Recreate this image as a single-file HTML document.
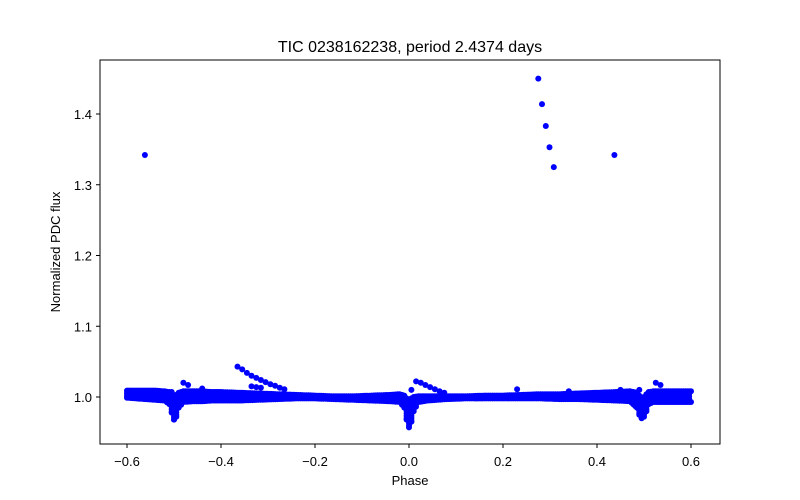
<!DOCTYPE html>
<html><head><meta charset="utf-8"><style>
body{margin:0;background:#fff;}
svg{display:block;font-family:"Liberation Sans","DejaVu Sans",sans-serif;}
</style></head><body>
<svg id="chart" width="800" height="500" viewBox="0 0 800 500">
<rect x="0" y="0" width="800" height="500" fill="#fff"/>
<text x="410" y="52" font-size="16" text-anchor="middle">TIC 0238162238, period 2.4374 days</text>
<g id="marks"></g>
<rect x="100" y="60" width="620" height="384" fill="none" stroke="#000" stroke-width="1"/>
<g id="xticks"></g>
<g id="yticks"></g>
<text x="410" y="485" font-size="13" text-anchor="middle">Phase</text>
<text x="60" y="252" font-size="13" text-anchor="middle" transform="rotate(-90 60 252)">Normalized PDC flux</text>
</svg>
<script>
// band envelope data
const bandPhase = [-0.6,-0.58,-0.56,-0.54,-0.52,-0.51,-0.505,-0.5,-0.495,-0.49,-0.48,-0.46,-0.44,-0.42,-0.4,-0.36,-0.32,-0.28,-0.24,-0.2,-0.16,-0.12,-0.08,-0.04,-0.02,-0.01,-0.005,0,0.005,0.01,0.02,0.04,0.08,0.12,0.16,0.2,0.24,0.28,0.32,0.36,0.4,0.44,0.47,0.485,0.49,0.495,0.5,0.505,0.51,0.52,0.54,0.56,0.58,0.6];
const bandHi = [1.009,1.009,1.009,1.009,1.008,1.007,1.004,1.0,1.003,1.006,1.008,1.008,1.008,1.007,1.007,1.006,1.005,1.004,1.003,1.002,1.001,1.001,1.002,1.003,1.004,1.002,0.998,0.995,0.998,1.0,1.001,1.001,1.001,1.001,1.002,1.002,1.003,1.004,1.004,1.005,1.006,1.007,1.008,1.006,1.002,0.999,1.0,1.004,1.007,1.008,1.008,1.008,1.008,1.008];
const bandLo = [0.999,0.998,0.997,0.996,0.995,0.99,0.978,0.968,0.972,0.985,0.993,0.994,0.994,0.995,0.995,0.995,0.996,0.997,0.998,0.998,0.997,0.996,0.995,0.994,0.993,0.985,0.968,0.957,0.965,0.98,0.993,0.995,0.997,0.998,0.998,0.998,0.998,0.998,0.997,0.997,0.996,0.995,0.994,0.985,0.975,0.97,0.972,0.98,0.99,0.993,0.993,0.993,0.993,0.993];
// trail and outlier points
const trailPhase = [-0.365,-0.355,-0.345,-0.335,-0.325,-0.315,-0.305,-0.295,-0.285,-0.275,-0.265,-0.335,-0.325,-0.315,0.015,0.025,0.035,0.045,0.055,0.065,0.075];
const trailFlux = [1.043,1.039,1.034,1.030,1.027,1.024,1.021,1.018,1.016,1.013,1.011,1.015,1.014,1.013,1.022,1.020,1.017,1.014,1.011,1.008,1.006];
const outPhase = [-0.562,0.275,0.283,0.291,0.299,0.308,0.437,-0.48,-0.47,0.525,0.535,-0.505,0.49,0.005,0.23,-0.44,0.34,0.45];
const outFlux = [1.342,1.450,1.414,1.383,1.353,1.325,1.342,1.020,1.017,1.020,1.017,1.007,1.010,1.010,1.011,1.012,1.008,1.010];
const xTicks = [-0.6,-0.4,-0.2,0.0,0.2,0.4,0.6];
const yTicks = [1.0,1.1,1.2,1.3,1.4];

const sx = p => 409 + p*470;
const sy = f => 397 - (f-1)*707.5;
const NS='http://www.w3.org/2000/svg';
const marks=document.getElementById('marks');
function dot(x,y){
  const c=document.createElementNS(NS,'circle');
  c.setAttribute('cx',x.toFixed(1));c.setAttribute('cy',y.toFixed(1));c.setAttribute('r','3');c.setAttribute('fill','#0000ff');
  
  
  marks.appendChild(c);
}
// band: interpolate envelope and fill with dots
for(let i=0;i<bandPhase.length-1;i++){
  const x0=sx(bandPhase[i]),x1=sx(bandPhase[i+1]);
  const n=Math.max(1,Math.round((x1-x0)/2));
  for(let k=0;k<n;k++){
    const t=k/n, x=x0+(x1-x0)*t;
    const hi=sy(bandHi[i]+(bandHi[i+1]-bandHi[i])*t);
    const lo=sy(bandLo[i]+(bandLo[i+1]-bandLo[i])*t);
    for(let y=hi;y<=lo;y+=2.5) dot(x,y);
    dot(x,lo);
  }
}
dot(sx(bandPhase[bandPhase.length-1]),sy(bandHi[bandHi.length-1]));
dot(sx(bandPhase[bandPhase.length-1]),sy(bandLo[bandLo.length-1]));
trailPhase.forEach((p,i)=>dot(sx(p),sy(trailFlux[i])));
outPhase.forEach((p,i)=>dot(sx(p),sy(outFlux[i])));

const xg=document.getElementById('xticks');
xTicks.forEach(v=>{
  const x=sx(v);
  const l=document.createElementNS(NS,'line');
  l.setAttribute('x1',x);l.setAttribute('x2',x);l.setAttribute('y1',444);l.setAttribute('y2',448);l.setAttribute('stroke','#000');
  
  
  xg.appendChild(l);
  const t=document.createElementNS(NS,'text');
  t.setAttribute('x',x);t.setAttribute('y',466);t.setAttribute('font-size','13');t.setAttribute('text-anchor','middle');
  t.textContent=(v<0?'\u2212':'')+Math.abs(v).toFixed(1);
  
  
  xg.appendChild(t);
});
const yg=document.getElementById('yticks');
yTicks.forEach(v=>{
  const y=sy(v);
  const l=document.createElementNS(NS,'line');
  l.setAttribute('x1',96);l.setAttribute('x2',100);l.setAttribute('y1',y);l.setAttribute('y2',y);l.setAttribute('stroke','#000');
  
  
  yg.appendChild(l);
  const t=document.createElementNS(NS,'text');
  t.setAttribute('x',92);t.setAttribute('y',y+5);t.setAttribute('font-size','13');t.setAttribute('text-anchor','end');
  t.textContent=v.toFixed(1);
  
  
  yg.appendChild(t);
});
</script>
</body></html>
